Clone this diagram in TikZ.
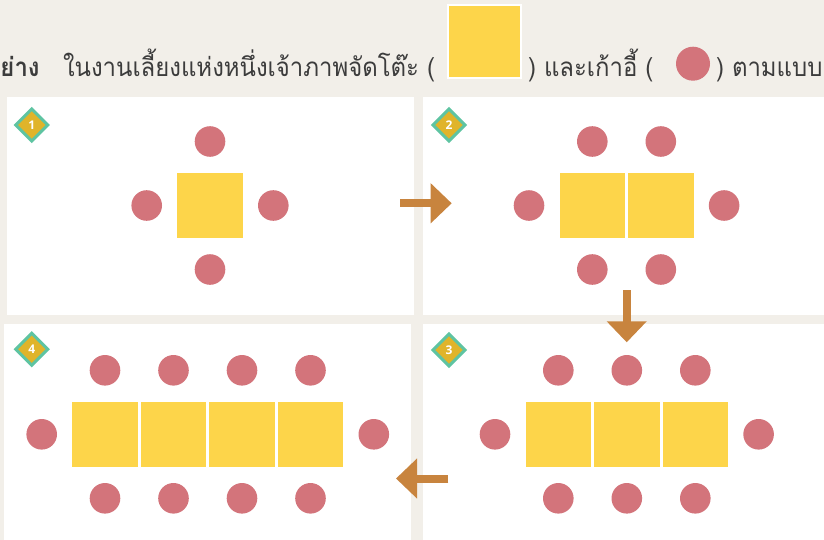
\documentclass[tikz,border=0pt]{standalone}
\usepackage{fontspec}
\newfontfamily\thaifont[Script=Thai, FakeStretch=0.92]{Loma}
\newfontfamily\badgefont{Open Sans}
\usetikzlibrary{arrows.meta,shapes.geometric}
\definecolor{paper}{HTML}{F2EFE9}
\definecolor{chairrose}{HTML}{D3747B}
\definecolor{tablegold}{HTML}{FDD54A}
\definecolor{badgegold}{HTML}{E0B42A}
\definecolor{badgeteal}{HTML}{5EC4A2}
\definecolor{copper}{HTML}{C8843E}
\definecolor{inkgrey}{HTML}{3C3C3C}

\begin{document}
\begin{tikzpicture}[x=0.5pt, y=-0.5pt,
    every node/.style={inner sep=0pt, outer sep=0pt},
    chair/.style={circle, fill=chairrose, minimum size=15.3pt},
    tablebox/.style={rectangle, fill=tablegold, minimum size=32.7pt},
    badge/.style={diamond, draw=badgeteal, line width=1.5pt, fill=badgegold,
        minimum size=16pt, text=white, font=\badgefont\bfseries\fontsize{6}{6}\selectfont},
    stepline/.style={copper, line width=4pt, -{Triangle[length=10.5pt, width=19.4pt]}},
    headtext/.style={font=\thaifont\fontsize{13}{15}\selectfont, text=inkgrey, anchor=base west},
]

% Page and panels
\fill[paper] (0,0) rectangle (824,540);
\useasboundingbox (0,0) rectangle (824,540);
\fill[white] (7,97) rectangle (414,315);
\fill[white] (423,97) rectangle (830,315);
\fill[white] (423,324) rectangle (830,545);
\fill[white] (4,324) rectangle (411,545);

% Heading with the key
\node[headtext, font=\thaifont\bfseries\fontsize{13}{15}\selectfont] (lead) at (0.5,76) {ย่าง};
\node[headtext] (intro) at (63,76) {ในงานเลี้ยงแห่งหนึ่งเจ้าภาพจัดโต๊ะ (};
\node[tablebox, draw=white, line width=1pt, minimum size=36.5pt] (keytable) at (484.5,41.5) {};
\node[headtext] (mid) at (528,76) {) และเก้าอี้\hspace{4pt}(};
\node[chair, minimum size=17pt] (keychair) at (693,63.7) {};
\node[headtext] (tail) at (716,76) {) ตามแบบ};

% Panel 1
\node[badge] (badge1) at (31.7,125) {1};
\foreach \i in {1} {
    \node[tablebox] (t1-\i) at ({210+(\i-1)*68.5},205.5) {};
    \node[chair] (c1-top\i) at ({210+(\i-1)*68.5},141.5) {};
    \node[chair] (c1-bot\i) at ({210+(\i-1)*68.5},269.5) {};
}
\node[chair] (c1-left) at (146.7,205.5) {};
\node[chair] (c1-right) at (273.3,205.5) {};

% Panel 2
\node[badge] (badge2) at (449,125) {2};
\foreach \i in {1,2} {
    \node[tablebox] (t2-\i) at ({592.3+(\i-1)*68.5},205.5) {};
    \node[chair] (c2-top\i) at ({592.3+(\i-1)*68.5},141.5) {};
    \node[chair] (c2-bot\i) at ({592.3+(\i-1)*68.5},269.5) {};
}
\node[chair] (c2-left) at (529,205.5) {};
\node[chair] (c2-right) at (724.1,205.5) {};

% Panel 3
\node[badge] (badge3) at (449,350) {3};
\foreach \i in {1,2,3} {
    \node[tablebox] (t3-\i) at ({558.3+(\i-1)*68.5},434.3) {};
    \node[chair] (c3-top\i) at ({558.3+(\i-1)*68.5},370.3) {};
    \node[chair] (c3-bot\i) at ({558.3+(\i-1)*68.5},498.3) {};
}
\node[chair] (c3-left) at (495,434.3) {};
\node[chair] (c3-right) at (758.6,434.3) {};

% Panel 4
\node[badge] (badge4) at (31.7,349.3) {4};
\foreach \i in {1,2,3,4} {
    \node[tablebox] (t4-\i) at ({105+(\i-1)*68.5},434.3) {};
    \node[chair] (c4-top\i) at ({105+(\i-1)*68.5},370.3) {};
    \node[chair] (c4-bot\i) at ({105+(\i-1)*68.5},498.3) {};
}
\node[chair] (c4-left) at (41.7,434.3) {};
\node[chair] (c4-right) at (373.8,434.3) {};

% Step arrows
\coordinate (go12) at (400,203.3);
\coordinate (to12) at (451.7,203.3);
\coordinate (go23) at (626.7,290);
\coordinate (to23) at (626.7,342.3);
\coordinate (go34) at (448.3,478.5);
\coordinate (to34) at (396,478.5);
\draw[stepline] (go12) -- (to12);
\draw[stepline] (go23) -- (to23);
\draw[stepline] (go34) -- (to34);

\end{tikzpicture}
\end{document}
